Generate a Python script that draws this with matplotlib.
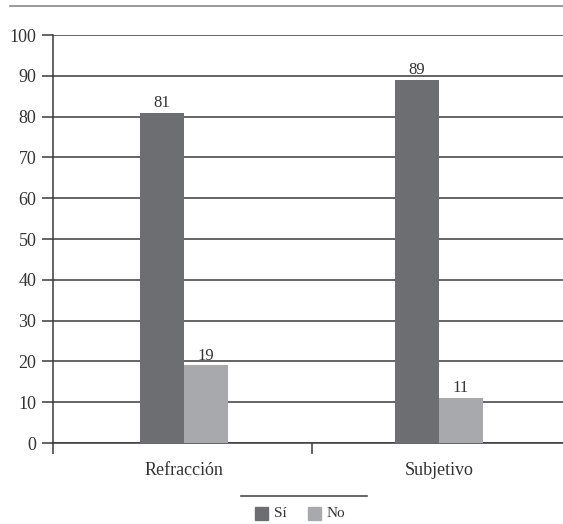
import matplotlib.pyplot as plt
from matplotlib.patches import Rectangle
from matplotlib.lines import Line2D

categorias = ['Refracción', 'Subjetivo']
si = [81, 89]
no = [19, 11]
series = ['Sí', 'No']
colores = ['#6d6e71', '#a7a9ac']

plt.rcParams['font.family'] = ['Liberation Serif', 'DejaVu Serif']

W, H = 563, 524
fig = plt.figure(figsize=(W / 100, H / 100), dpi=100)

# ejes: izquierda en x=53, y=0 en 443, y=100 en 35; 255 px por categoría
paso = 255
x0 = 53
izq = -131 / paso
x1 = x0 + (1.5 - izq) * paso
ax = fig.add_axes([x0 / W, (H - 443) / H, (x1 - x0) / W, (443 - 35) / H])

ancho = 44 / paso
pos = range(len(categorias))
for i, (s, n) in enumerate(zip(si, no)):
    ax.bar(i - ancho / 2, s, ancho, color=colores[0], zorder=3)
    ax.bar(i + ancho / 2, n, ancho, color=colores[1], zorder=3)
    ax.text(i - ancho / 2, s + 0.4, str(s), ha='center', va='bottom', fontsize=12, color='#333333')
    ax.text(i + ancho / 2, n + 0.4, str(n), ha='center', va='bottom', fontsize=12, color='#333333')

ax.set_xlim(izq, 1.5)
ax.set_ylim(0, 100)
ax.set_yticks(range(0, 101, 10))
ax.yaxis.grid(True, color='#3a3a3a', linewidth=1.1, zorder=0)
ax.set_axisbelow(True)

ax.set_xticks([izq, 0.5])
ax.set_xticklabels([])
ax.set_xticks(list(pos), minor=True)
ax.set_xticklabels(categorias, minor=True, fontsize=13, color='#333333')
ax.tick_params(axis='x', which='minor', length=0, pad=14)
ax.tick_params(axis='x', which='major', length=8, width=1.1, color='#3a3a3a')
ax.tick_params(axis='y', length=8, width=1.1, color='#3a3a3a', labelsize=13,
               labelcolor='#333333', pad=4)

for lado in ['top', 'right']:
    ax.spines[lado].set_visible(False)
ax.spines['left'].set_color('#3a3a3a')
ax.spines['left'].set_linewidth(1.1)
ax.spines['bottom'].set_color('#3a3a3a')
ax.spines['bottom'].set_linewidth(1.1)

# línea superior
fig.add_artist(Line2D([10 / W, 1], [1 - 6 / H, 1 - 6 / H], color='#8a8a8a', linewidth=1.2))

# leyenda
fig.add_artist(Line2D([241 / W, 367 / W], [1 - 496 / H, 1 - 496 / H], color='#3a3a3a', linewidth=1.1))
for j, (nombre, c) in enumerate(zip(series, colores)):
    lx = 255 + 53 * j
    fig.add_artist(Rectangle((lx / W, 1 - 520 / H), 13 / W, 13 / H, color=c,
                             transform=fig.transFigure))
    fig.text((lx + 19) / W, 1 - 513.5 / H, nombre, ha='left', va='center',
             fontsize=11, color='#333333')

fig.savefig('out.png', dpi=100)
